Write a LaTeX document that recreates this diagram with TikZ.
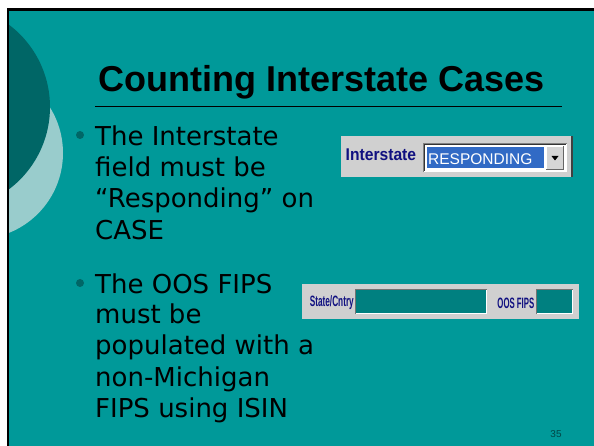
\documentclass[tikz,border=0pt]{standalone}
\usepackage{fontspec}
\newfontfamily\titlefont{Liberation Sans}
\newfontfamily\bodyfont{DejaVu Sans}
\definecolor{bgteal}{RGB}{0,153,153}
\definecolor{darkteal}{RGB}{0,102,102}
\definecolor{lightteal}{RGB}{153,204,204}
\definecolor{wgray}{RGB}{208,208,208}
\definecolor{fieldteal}{RGB}{0,128,128}
\definecolor{selblue}{RGB}{49,106,197}
\definecolor{navy}{RGB}{16,16,128}
\definecolor{pagenum}{RGB}{0,70,70}
\tikzset{
  bodyline/.style={anchor=base west, inner sep=0pt, font=\bodyfont\fontsize{26}{31}\selectfont, text=black},
  bulletdot/.style={circle, fill=darkteal, minimum size=8pt, inner sep=0pt},
  smalllabel/.style={anchor=east, inner sep=0pt, text=navy, font=\titlefont\bfseries\fontsize{15}{17}\selectfont},
}
\begin{document}
\begin{tikzpicture}[x=1pt,y=-1pt]
\useasboundingbox (0,0) rectangle (594,446);
\fill[white] (0,0) rectangle (594,446);
\fill[bgteal] (8,10) rectangle (594,446);
\begin{scope}
  \clip (8.5,10.5) rectangle (594,446);
  \fill[lightteal] (-23,153) circle[radius=86];
  \fill[darkteal] (-53,107) circle[radius=103];
\end{scope}
\draw[black, line width=2.2pt] (7.6,446) -- (7.6,9.6) -- (594,9.6);
% title
\node[anchor=base, inner sep=0pt, font=\titlefont\bfseries\fontsize{36}{40}\selectfont] (title) at (322,92) {Counting Interstate Cases};
\coordinate (ruleL) at (95,107);
\coordinate (ruleR) at (562,107);
\draw[black, line width=1pt] (ruleL) -- (ruleR);
% bullets
\node[bulletdot] (d1) at (80,135) {};
\node[bodyline] (a1) at (95,146) {The Interstate};
\node[bodyline] (a2) at (95,177) {field must be};
\node[bodyline] (a3) at (95,208) {“Responding” on};
\node[bodyline] (a4) at (95,240) {CASE};
\node[bulletdot] (d2) at (80,283) {};
\node[bodyline] (b1) at (95,293) {The OOS FIPS};
\node[bodyline] (b2) at (95,323) {must be};
\node[bodyline] (b3) at (95,354) {populated with a};
\node[bodyline] (b4) at (95,386) {non-Michigan};
\node[bodyline] (b5) at (95,417) {FIPS using ISIN};
% widget 1
\fill[wgray] (341,136) rectangle (571,177);
\draw[black!75, line width=1.5pt] (572,136) -- (572,177);
\node[anchor=base west, inner sep=0pt, text=navy, font=\titlefont\bfseries\fontsize{17}{19}\selectfont] (lbl1) at (345.5,161) {\scalebox{0.92}[1]{Interstate}};
\fill[white] (423,143) rectangle (567,172);
\draw[black!50, line width=1pt] (423.5,172) -- (423.5,143.5) -- (567,143.5);
\draw[black!80, line width=0.8pt] (424.8,171) -- (424.8,144.8) -- (566,144.8);
\fill[selblue] (427,147) rectangle (544,168);
\node[anchor=base west, inner sep=0pt, text=white, font=\titlefont\fontsize{15.5}{18}\selectfont] (val1) at (428,165) {RESPONDING};
\fill[wgray!90!white] (546,146) rectangle (564,170);
\draw[white, line width=0.8pt] (546.4,170) -- (546.4,146.4) -- (564,146.4);
\draw[black!60, line width=0.8pt] (546,169.6) -- (563.6,169.6) -- (563.6,146);
\fill[black] (551.5,156) -- (558.5,156) -- (555,160.5) -- cycle;
% widget 2
\fill[wgray] (302,284) rectangle (579,319);
\node[smalllabel] (lbl2) at (354,303) {\scalebox{0.55}[1]{State/Cntry}};
\fill[fieldteal] (355,289) rectangle (487,314);
\draw[black!55, line width=1pt] (355.5,314) -- (355.5,289.5) -- (487,289.5);
\draw[white, line width=1pt] (355.5,313.5) -- (486.5,313.5) -- (486.5,289.5);
\node[smalllabel] (lbl3) at (534.5,303) {\scalebox{0.52}[1]{OOS FIPS}};
\fill[fieldteal] (536,289) rectangle (573,314);
\draw[black!55, line width=1pt] (536.5,314) -- (536.5,289.5) -- (573,289.5);
\draw[white, line width=1pt] (536.5,313.5) -- (572.5,313.5) -- (572.5,289.5);
% page number
\node[inner sep=0pt, text=pagenum, font=\titlefont\fontsize{10}{11}\selectfont] (pg) at (556,434) {35};
\end{tikzpicture}
\end{document}
